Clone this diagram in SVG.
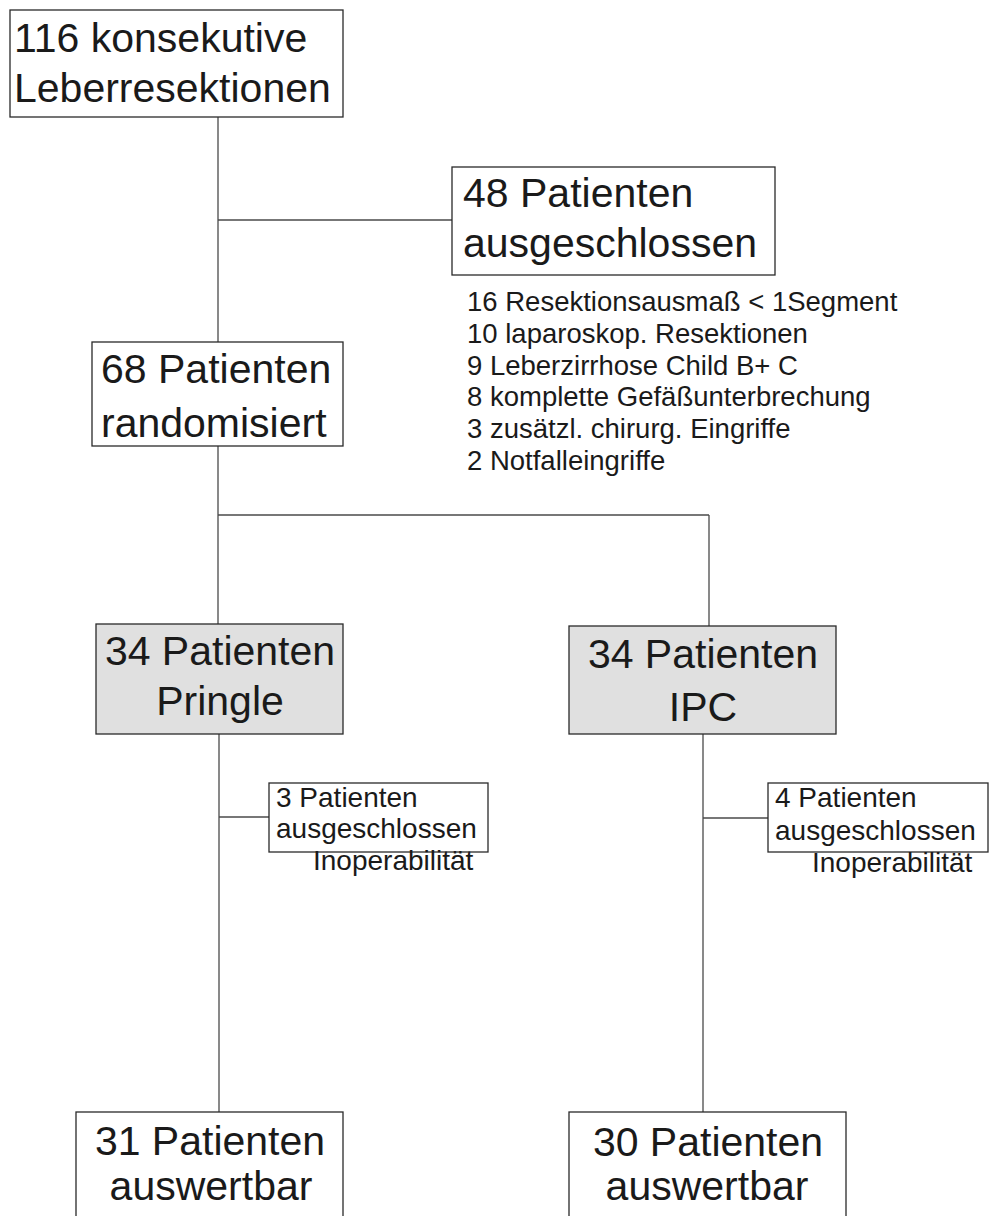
<svg xmlns="http://www.w3.org/2000/svg" width="990" height="1216" viewBox="0 0 990 1216">
<style>
.box{fill:#ffffff;stroke:#2a2a2a;stroke-width:1.3}
.gbox{fill:#e0e0e0;stroke:#2a2a2a;stroke-width:1.3}
.ln{stroke:#4a4a4a;stroke-width:1.3;fill:none}
.big{font-family:"Liberation Sans",Arial,sans-serif;font-size:41px;fill:#1a1a1a}
.mid{font-family:"Liberation Sans",Arial,sans-serif;font-size:27.5px;fill:#1a1a1a}
.sm{font-family:"Liberation Sans",Arial,sans-serif;font-size:28px;fill:#1a1a1a}
.c{text-anchor:middle}
</style>
<rect width="990" height="1216" fill="#ffffff"/>
<g id="connectors">
<line class="ln" x1="218" y1="117" x2="218" y2="342"/>
<line class="ln" x1="218" y1="220" x2="452" y2="220"/>
<line class="ln" x1="218" y1="446" x2="218" y2="624"/>
<line class="ln" x1="218" y1="515" x2="709" y2="515"/>
<line class="ln" x1="709" y1="515" x2="709" y2="626"/>
<line class="ln" x1="219" y1="734" x2="219" y2="1112"/>
<line class="ln" x1="219" y1="817" x2="269" y2="817"/>
<line class="ln" x1="703" y1="734" x2="703" y2="1112"/>
<line class="ln" x1="703" y1="818" x2="768" y2="818"/>
</g>
<g id="n1">
<rect class="box" x="10" y="10" width="333" height="107"/>
<text class="big" x="14" y="52">116 konsekutive</text>
<text class="big" x="14" y="102">Leberresektionen</text>
</g>
<g id="n2">
<rect class="box" x="452" y="167" width="323" height="108"/>
<text class="big" x="463" y="207">48 Patienten</text>
<text class="big" x="463" y="257">ausgeschlossen</text>
</g>
<g id="n2list">
<text class="mid" x="467" y="311">16 Resektionsausmaß &lt; 1Segment</text>
<text class="mid" x="467" y="343">10 laparoskop. Resektionen</text>
<text class="mid" x="467" y="375">9 Leberzirrhose Child B+ C</text>
<text class="mid" x="467" y="406">8 komplette Gefäßunterbrechung</text>
<text class="mid" x="467" y="438">3 zusätzl. chirurg. Eingriffe</text>
<text class="mid" x="467" y="470">2 Notfalleingriffe</text>
</g>
<g id="n3">
<rect class="box" x="92" y="342" width="251" height="104"/>
<text class="big" x="101" y="383">68 Patienten</text>
<text class="big" x="101" y="437">randomisiert</text>
</g>
<g id="n4">
<rect class="gbox" x="96" y="624" width="247" height="110"/>
<text class="big c" x="220" y="665">34 Patienten</text>
<text class="big c" x="220" y="715">Pringle</text>
</g>
<g id="n5">
<rect class="gbox" x="569" y="626" width="267" height="108"/>
<text class="big c" x="703" y="668">34 Patienten</text>
<text class="big c" x="703" y="721">IPC</text>
</g>
<g id="n6">
<rect class="box" x="269" y="783" width="219" height="69"/>
<text class="sm" x="276" y="807">3 Patienten</text>
<text class="sm" x="276" y="838">ausgeschlossen</text>
<text class="sm" x="313" y="870">Inoperabilität</text>
</g>
<g id="n7">
<rect class="box" x="768" y="783" width="220" height="69"/>
<text class="sm" x="775" y="807">4 Patienten</text>
<text class="sm" x="775" y="840">ausgeschlossen</text>
<text class="sm" x="812" y="872">Inoperabilität</text>
</g>
<g id="n8">
<rect class="box" x="76" y="1112" width="267" height="120"/>
<text class="big c" x="210" y="1155">31 Patienten</text>
<text class="big c" x="211" y="1200">auswertbar</text>
</g>
<g id="n9">
<rect class="box" x="569" y="1112" width="277" height="120"/>
<text class="big c" x="708" y="1156">30 Patienten</text>
<text class="big c" x="707" y="1200">auswertbar</text>
</g>
</svg>
